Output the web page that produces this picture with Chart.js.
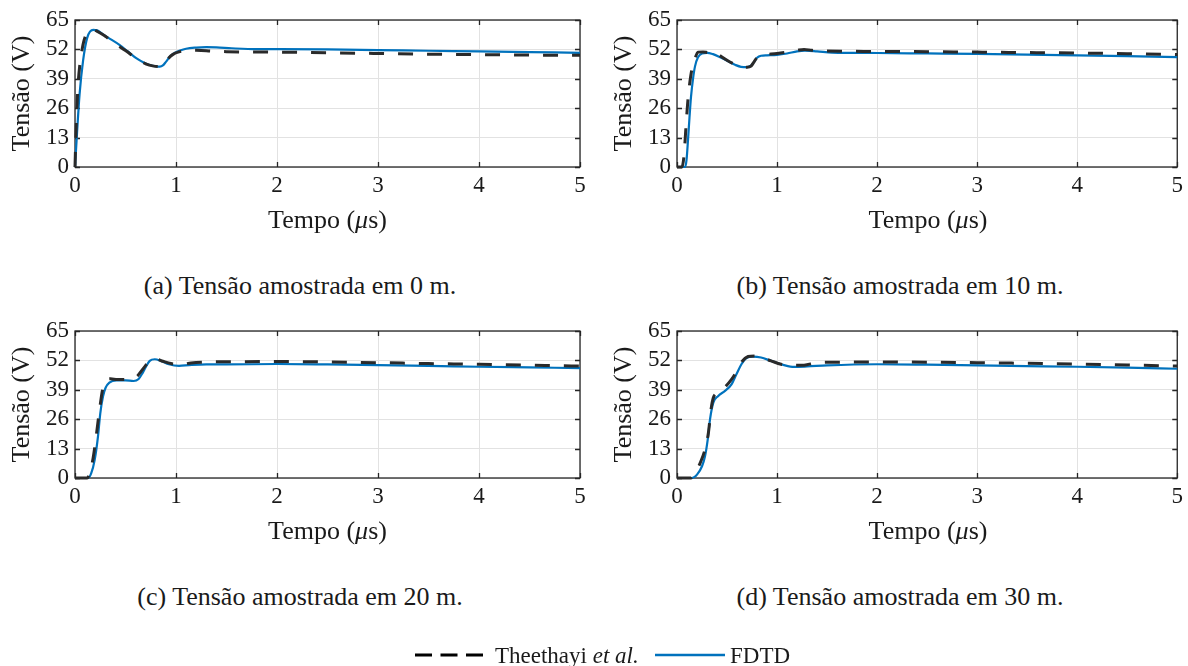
<!DOCTYPE html>
<html><head><meta charset="utf-8">
<script src="https://cdn.jsdelivr.net/npm/chart.js@4.4.0/dist/chart.umd.min.js"></script>
<style>
body{margin:0;width:1188px;height:666px;overflow:hidden;background:#fff;font-family:'Liberation Serif','Times New Roman',serif;color:#1a1a1a;position:relative;}
canvas{position:absolute;}
.c{position:absolute;white-space:nowrap;transform:translate(-50%,-50%);line-height:1;}
.l{position:absolute;white-space:nowrap;transform:translate(0,-50%);line-height:1;}
</style></head><body>
<canvas id="ca"></canvas><canvas id="cb"></canvas><canvas id="cc"></canvas><canvas id="cd"></canvas>
<div id="texts"></div>
<svg style="position:absolute;left:0;top:0" width="1188" height="666">
  <line x1="415" y1="655" x2="483" y2="655" stroke="#000" stroke-width="3" stroke-dasharray="17 8.5"/>
  <line x1="655" y1="655" x2="725" y2="655" stroke="#0072BD" stroke-width="2.5"/>
</svg>
<div class="l" style="left:495px;top:655px;font-size:23px">Theethayi <i>et al.</i></div>
<div class="l" style="left:730px;top:655px;font-size:23px">FDTD</div>
<script>
// ---- data ----
const xTicks = [0, 1, 2, 3, 4, 5];
const yTicks = [0, 13, 26, 39, 52, 65];
const seriesNames = ['Theethayi et al.', 'FDTD'];
const captions = ['(a) Tensão amostrada em 0 m.', '(b) Tensão amostrada em 10 m.', '(c) Tensão amostrada em 20 m.', '(d) Tensão amostrada em 30 m.'];

// (a) 0 m
const tA_T = [0, 0.005, 0.015, 0.03, 0.05, 0.07, 0.1, 0.16, 0.22, 0.3, 0.4, 0.5, 0.6, 0.7, 0.78, 0.84, 0.88, 0.92, 0.97, 1.03, 1.1, 1.2, 1.35, 1.5, 2.0, 2.5, 3.0, 3.5, 4.0, 4.5, 5.0];
const vA_T = [0, 8, 22, 36, 46, 52, 57.5, 60.8, 60, 57.8, 54.5, 51.5, 48.2, 45.6, 44.6, 44.4, 45.5, 47.8, 49.8, 50.9, 51.4, 51.6, 51.3, 51.0, 50.8, 50.5, 50.2, 49.9, 49.7, 49.5, 49.4];
const tA_F = [0, 0.02, 0.045, 0.08, 0.12, 0.18, 0.22, 0.28, 0.36, 0.44, 0.52, 0.61, 0.68, 0.74, 0.8, 0.84, 0.87, 0.9, 0.94, 0.99, 1.04, 1.1, 1.2, 1.3, 1.4, 1.55, 1.8, 2.0, 2.5, 3.0, 3.5, 4.0, 4.5, 5.0];
const vA_F = [0, 15, 32, 47, 57, 60.6, 60.4, 58.5, 56.3, 54, 51.2, 48, 46.2, 45.1, 44.5, 44.4, 44.9, 46.5, 48.8, 50.5, 51.5, 52.3, 52.8, 53, 52.9, 52.5, 52.1, 52.1, 52, 51.7, 51.4, 51.1, 50.8, 50.5];

// (b) 10 m
const tB_T = [0, 0.05, 0.07, 0.09, 0.11, 0.13, 0.15, 0.18, 0.21, 0.26, 0.32, 0.37, 0.42, 0.5, 0.58, 0.64, 0.7, 0.74, 0.77, 0.8, 0.85, 0.92, 1.0, 1.1, 1.2, 1.27, 1.35, 1.5, 2.0, 2.5, 3.0, 3.5, 4.0, 4.5, 5.0];
const vB_T = [0, 0, 5, 18, 30, 38, 43.5, 48, 50.8, 50.9, 50.6, 51.0, 49.5, 47.2, 45.3, 44.2, 44.1, 44.6, 46.5, 48.4, 49.6, 49.9, 50.2, 50.8, 51.6, 52.0, 51.6, 51.3, 51.1, 51.0, 50.8, 50.6, 50.4, 50.1, 49.7];
const tB_F = [0, 0.08, 0.095, 0.11, 0.125, 0.14, 0.16, 0.18, 0.21, 0.25, 0.3, 0.36, 0.42, 0.5, 0.58, 0.64, 0.7, 0.74, 0.77, 0.8, 0.84, 0.9, 1.0, 1.1, 1.2, 1.28, 1.4, 1.55, 2.0, 2.5, 3.0, 3.5, 4.0, 4.5, 5.0];
const vB_F = [0, 0, 3, 12, 22, 31, 39, 44.5, 48.5, 50.2, 50.5, 49.9, 48.8, 47, 45.2, 44.3, 44.2, 44.8, 46.5, 48.3, 49.2, 49.4, 49.6, 50.2, 51.1, 51.4, 51.1, 50.6, 50.4, 50.2, 50.0, 49.7, 49.4, 49.0, 48.6];

// (c) 20 m
const tC_T = [0, 0.12, 0.145, 0.18, 0.21, 0.244, 0.277, 0.31, 0.35, 0.42, 0.5, 0.57, 0.62, 0.66, 0.7, 0.75, 0.8, 0.87, 0.95, 1.05, 1.15, 1.3, 1.5, 2.0, 2.5, 3.0, 3.5, 4.0, 4.5, 5.0];
const vC_T = [0, 0, 2, 9, 18.5, 30.5, 40, 43.3, 43.9, 43.5, 43.5, 43.8, 45.2, 47.5, 49.8, 52.1, 52.6, 51.6, 50.6, 50.2, 50.9, 51.3, 51.4, 51.5, 51.3, 51.0, 50.6, 50.3, 49.9, 49.5];
const tC_F = [0, 0.13, 0.16, 0.195, 0.228, 0.25, 0.277, 0.304, 0.34, 0.41, 0.5, 0.58, 0.63, 0.67, 0.7, 0.74, 0.79, 0.85, 0.93, 1.03, 1.13, 1.3, 1.5, 2.0, 2.5, 3.0, 3.5, 4.0, 4.5, 5.0];
const vC_F = [0, 0, 2, 8, 18.5, 28.5, 36, 40, 42.2, 43.2, 43.2, 42.9, 43.8, 46.5, 49, 51.8, 52.5, 51.8, 50.3, 49.6, 49.9, 50.2, 50.2, 50.4, 50.2, 49.9, 49.6, 49.2, 48.9, 48.6];

// (d) 30 m
const tD_T = [0, 0.14, 0.18, 0.23, 0.28, 0.314, 0.34, 0.363, 0.4, 0.47, 0.545, 0.6, 0.65, 0.71, 0.775, 0.85, 0.94, 1.04, 1.15, 1.27, 1.4, 1.6, 2.0, 2.5, 3.0, 3.5, 4.0, 4.5, 5.0];
const vD_T = [0, 0, 2.2, 6.5, 12.6, 20, 30.3, 35.5, 37.5, 39.8, 43.6, 47.5, 51.5, 53.7, 54, 53.2, 51.8, 50.3, 49.8, 49.9, 51, 51.2, 51.3, 51.2, 51, 50.7, 50.4, 50, 49.5];
const tD_F = [0, 0.15, 0.2, 0.25, 0.28, 0.307, 0.33, 0.363, 0.41, 0.48, 0.545, 0.594, 0.644, 0.693, 0.76, 0.84, 0.94, 1.07, 1.17, 1.3, 1.5, 2.0, 2.5, 3.0, 3.5, 4.0, 4.5, 5.0];
const vD_F = [0, 0, 1.5, 5.2, 9.6, 17, 25.9, 33.3, 36.2, 38.5, 41.4, 45.9, 50.3, 53, 53.7, 53.3, 51.8, 49.9, 49.1, 49.3, 49.8, 50.3, 50.1, 49.8, 49.5, 49.2, 48.8, 48.3];

// ---- layout ----
const panels = [
  {id:'ca', left:0,   top:0,   w:594, h:250, pl:75,  pt:20,  pr:580,  pb:167, ytp:6.4,  T:[tA_T,vA_T], F:[tA_F,vA_F], cap:captions[0], capX:300, capY:286, xtY:220},
  {id:'cb', left:594, top:0,   w:594, h:250, pl:677, pt:20,  pr:1179, pb:167, ytp:14.4, T:[tB_T,vB_T], F:[tB_F,vB_F], cap:captions[1], capX:900, capY:286, xtY:220},
  {id:'cc', left:0,   top:311, w:594, h:250, pl:75,  pt:331, pr:580,  pb:478, ytp:6.4,  T:[tC_T,vC_T], F:[tC_F,vC_F], cap:captions[2], capX:300, capY:597, xtY:531},
  {id:'cd', left:594, top:311, w:594, h:250, pl:677, pt:331, pr:1179, pb:478, ytp:14.4, T:[tD_T,vD_T], F:[tD_F,vD_F], cap:captions[3], capX:900, capY:597, xtY:531}
];

const FAMILY = '"Liberation Serif", "Times New Roman", serif';
Chart.defaults.font.family = FAMILY;
Chart.defaults.color = '#1a1a1a';

const zip = (t, v) => t.map((x, i) => ({x: x, y: v[i]}));

const boxPlugin = {
  id: 'box',
  beforeDatasetsDraw(chart) {
    const {ctx, chartArea: a, scales: {x, y}} = chart;
    ctx.save();
    ctx.strokeStyle = '#262626';
    ctx.lineWidth = 1.3;
    ctx.beginPath();
    const tl = 5;
    xTicks.forEach(v => {
      const px = Math.round(x.getPixelForValue(v)) + 0.5;
      ctx.moveTo(px, a.bottom); ctx.lineTo(px, a.bottom - tl);
      ctx.moveTo(px, a.top); ctx.lineTo(px, a.top + tl);
    });
    yTicks.forEach(v => {
      const py = Math.round(y.getPixelForValue(v)) + 0.5;
      ctx.moveTo(a.left, py); ctx.lineTo(a.left + tl, py);
      ctx.moveTo(a.right, py); ctx.lineTo(a.right - tl, py);
    });
    ctx.stroke();
    ctx.strokeRect(a.left, a.top, a.right - a.left, a.bottom - a.top);
    ctx.restore();
  }
};

function build() {
  const texts = document.getElementById('texts');
  panels.forEach(p => {
    const cv = document.getElementById(p.id);
    cv.width = p.w; cv.height = p.h;
    cv.style.left = p.left + 'px'; cv.style.top = p.top + 'px';
    cv.style.width = p.w + 'px'; cv.style.height = p.h + 'px';
    new Chart(cv, {
      type: 'line',
      data: {datasets: [
        {label: seriesNames[0], data: zip(p.T[0], p.T[1]), borderColor: '#2a2a2a', borderWidth: 3, borderDash: [15, 14],
         pointRadius: 0, cubicInterpolationMode: 'monotone', clip: false},
        {label: seriesNames[1], data: zip(p.F[0], p.F[1]), borderColor: '#0072BD', borderWidth: 2.2,
         pointRadius: 0, cubicInterpolationMode: 'monotone', clip: false}
      ]},
      options: {
        responsive: false, animation: false, devicePixelRatio: 1,
        layout: {padding: {left: 0, top: p.pt - p.top, right: p.left + p.w - p.pr, bottom: 0}},
        plugins: {legend: {display: false}, tooltip: {enabled: false}},
        scales: {
          x: {type: 'linear', min: 0, max: 5,
              afterBuildTicks: s => { s.ticks = xTicks.map(v => ({value: v})); },
              ticks: {padding: 5, font: {family: FAMILY, size: 23}, color: '#1a1a1a', maxRotation: 0, autoSkip: false},
              grid: {color: '#e2e2e2', lineWidth: 1, drawTicks: false},
              border: {display: false},
              afterFit: s => { s.height = p.top + p.h - p.pb; }},
          y: {type: 'linear', min: 0, max: 65,
              afterBuildTicks: s => { s.ticks = yTicks.map(v => ({value: v})); },
              ticks: {padding: 6, font: {family: FAMILY, size: 23}, color: '#1a1a1a', autoSkip: false},
              grid: {color: '#e2e2e2', lineWidth: 1, drawTicks: false},
              border: {display: false},
              title: {display: true, text: 'Tensão (V)', font: {family: FAMILY, size: 26}, color: '#1a1a1a', padding: {top: p.ytp, bottom: 0}},
              afterFit: s => { s.width = p.pl - p.left; }}
        }
      },
      plugins: [boxPlugin]
    });
    const xt = document.createElement('div');
    xt.className = 'c';
    xt.style.cssText = 'left:' + ((p.pl + p.pr) / 2) + 'px;top:' + p.xtY + 'px;font-size:26px';
    xt.innerHTML = 'Tempo (<i>μ</i>s)';
    texts.appendChild(xt);
    const cp = document.createElement('div');
    cp.className = 'c';
    cp.style.cssText = 'left:' + p.capX + 'px;top:' + p.capY + 'px;font-size:26px';
    cp.textContent = p.cap;
    texts.appendChild(cp);
  });
}

Promise.all([
  document.fonts.load('23px "Liberation Serif"'),
  document.fonts.load('26px "Liberation Serif"')
]).then(build, build);
</script>
</body></html>
